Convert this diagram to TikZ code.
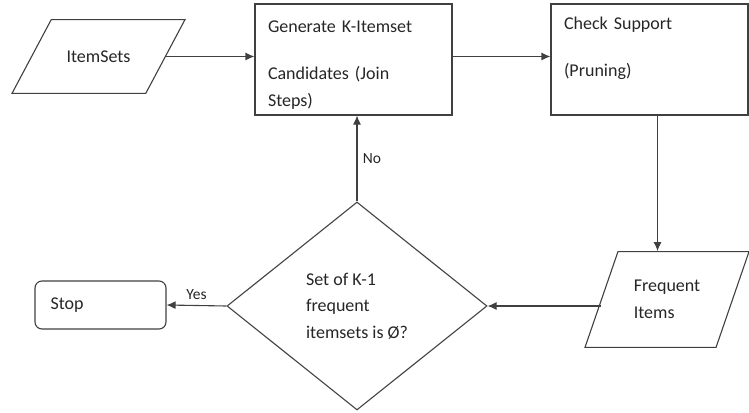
\documentclass[tikz,border=0pt]{standalone}
\usepackage{fontspec}
\setmainfont{Carlito}
\usetikzlibrary{calc,arrows.meta,shapes.geometric}
\definecolor{trait}{HTML}{404040}
\definecolor{encre}{HTML}{262626}
\newcommand{\txtflow}{\fontsize{18}{27}\selectfont}
\newcommand{\txtlabel}{\fontsize{15.5}{20}\selectfont}
\newcommand{\haut}{\rule{0pt}{23pt}}

\begin{document}
\begin{tikzpicture}[x=1pt, y=-1pt, text=encre]
    % Styles
    \tikzset{fleche/.style={draw=trait, line width=1.1pt, -{Latex[length=9pt, width=8pt]}}}%
    \tikzset{boite/.style={draw=trait, line width=1.1pt, rectangle, minimum width=197pt, minimum height=111pt, inner sep=0pt, text width=171pt, align=left, font=\txtflow}}%
    \tikzset{donnees/.style={draw=trait, line width=1.1pt, trapezium, trapezium stretches body=true, inner xsep=0pt, font=\txtflow}}%
    \tikzset{decision/.style={draw=trait, line width=1.1pt, diamond, minimum width=260pt, minimum height=208pt, inner sep=0pt, align=left, font=\fontsize{18}{26.5}\selectfont}}%
    \tikzset{fin/.style={draw=trait, line width=1.1pt, rectangle, rounded corners=7pt, minimum width=131pt, minimum height=48pt, inner sep=0pt, text width=100pt, align=left, font=\txtflow}}%

    % Cadre
    \useasboundingbox (0,0) rectangle (749,412);%

    % Nodes
    \node[donnees, trapezium left angle=62, trapezium right angle=118, minimum width=173pt, inner ysep=31pt] (items) at (98.5,56.5) {ItemSets};%
    \node[boite] (gen) at (353.5,59.5) {\haut Generate K-Itemset\\[20pt]Candidates (Join\\Steps)};%
    \node[boite] (chk) at (649.5,59.5) {\haut Check Support\\[20pt](Pruning)\\\strut};%
    \node[donnees, trapezium left angle=71, trapezium right angle=109, minimum width=164pt, inner ysep=28.5pt, align=left] (freq) at (667,299.5) {Frequent\\Items};%
    \node[decision] (dia) at (357,306) {Set of K-1\\frequent\\itemsets is Ø?};%
    \node[fin] (stop) at (100.5,305) {Stop};%

    % Connectors
    \draw[fleche] (items.east) -- (items.east -| gen.west);%
    \draw[fleche] (gen.east |- items.east) -- (chk.west |- items.east);%
    \draw[fleche] ([xshift=8pt]chk.south) -- ([xshift=8pt]chk.south |- freq.north);%
    \draw[fleche] (dia.east -| freq.west) -- (dia.east);%
    \draw[fleche] (dia.west) -- (stop.east) node[midway, above=2pt, font=\txtlabel] {Yes};%
    \draw[fleche] (dia.north) -- (dia.north |- gen.south) node[midway, right=2pt, font=\txtlabel] {No};%
\end{tikzpicture}
\end{document}
